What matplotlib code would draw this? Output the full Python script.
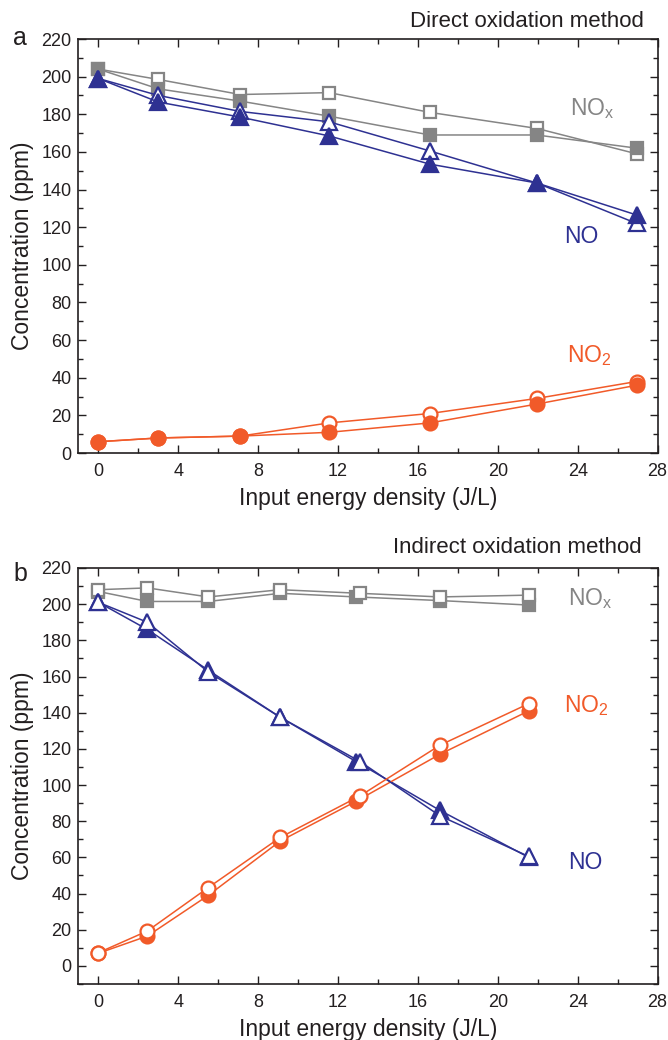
'''NO, NO2 and NOx concentration versus input energy density for two oxidation methods.'''

import matplotlib
matplotlib.use('Agg')
import matplotlib.pyplot as plt
from matplotlib.ticker import MultipleLocator

plt.rcParams['font.family'] = ['Liberation Sans', 'DejaVu Sans']
plt.rcParams['mathtext.fontset'] = 'custom'
plt.rcParams['mathtext.rm'] = 'Liberation Sans'
plt.rcParams['mathtext.it'] = 'Liberation Sans'

GRAY = '#858585'
BLUE = '#2e3192'
ORANGE = '#f15a29'
INK = '#231f20'

# panel a: direct oxidation
a_x = [0, 3.0, 7.1, 11.55, 16.6, 21.95, 26.95]
a_nox_open = [204, 198.5, 190.5, 191.5, 181, 172.5, 159]
a_nox_fill = [204, 193.5, 187, 179, 169, 169, 162]
a_no_open = [199, 190, 181.5, 176, 160.5, 143.5, 122]
a_no_fill = [199, 186.5, 178.5, 168.5, 153.5, 143.5, 126.5]
a_no2_open = [6, 8, 9, 16, 21, 29, 38]
a_no2_fill = [6, 8, 9, 11, 16, 26, 36]

# panel b: indirect oxidation
b_x_open = [0, 2.45, 5.5, 9.1, 13.1, 17.1, 21.55]
b_x_fill = [0, 2.45, 5.5, 9.1, 12.9, 17.1, 21.55]
b_nox_open = [208, 209, 204, 208, 206, 204, 205]
b_nox_fill = [207, 201.5, 201.5, 206, 204, 202, 199.5]
b_no_open = [201, 190, 162.5, 137.5, 113, 83, 60.5]
b_no_fill = [201, 186, 163.5, 137.5, 113, 86, 60]
b_no2_open = [7.3, 19.3, 43.3, 71, 94, 122, 145]
b_no2_fill = [7, 16.5, 39, 69, 91, 117, 141]

x_ticks = [0, 4, 8, 12, 16, 20, 24, 28]
y_ticks = [0, 20, 40, 60, 80, 100, 120, 140, 160, 180, 200, 220]

MS = {'s': 8.5, '^': 11, 'o': 10}


def series(ax, x, y, color, marker, filled, z):
    face = color if filled else 'white'
    ax.plot(x, y, color=color, lw=1.1, marker=marker, ms=MS[marker],
            mfc=face, mec=color, mew=1.6, zorder=z)


def style_axes(ax, ylim):
    ax.set_xlim(-1, 28)
    ax.set_ylim(*ylim)
    ax.set_xticks(x_ticks)
    ax.set_yticks(y_ticks)
    ax.xaxis.set_minor_locator(MultipleLocator(2))
    ax.yaxis.set_minor_locator(MultipleLocator(10))
    ax.tick_params(which='both', direction='in', top=True, right=True,
                   color=INK, width=1.0, labelcolor=INK, labelsize=13)
    ax.tick_params(which='major', length=6)
    ax.tick_params(which='minor', length=3.5)
    ax.tick_params(axis='x', pad=7)
    ax.tick_params(axis='y', pad=5)
    for s in ax.spines.values():
        s.set_color(INK)
        s.set_linewidth(1.2)
    ax.set_xlabel('Input energy density (J/L)', fontsize=16.5, color=INK, labelpad=5)
    ax.set_ylabel('Concentration (ppm)', fontsize=16.5, color=INK, labelpad=5)


def main():
    fig = plt.figure(figsize=(6.68, 10.4), dpi=100)
    ax_a = fig.add_axes([0.1175, 0.5644, 0.8668, 0.3981])
    ax_b = fig.add_axes([0.1175, 0.05385, 0.8668, 0.4])

    # direct: filled markers sit on top
    series(ax_a, a_x, a_nox_open, GRAY, 's', False, 3)
    series(ax_a, a_x, a_nox_fill, GRAY, 's', True, 4)
    series(ax_a, a_x, a_no_open, BLUE, '^', False, 5)
    series(ax_a, a_x, a_no_fill, BLUE, '^', True, 6)
    series(ax_a, a_x, a_no2_open, ORANGE, 'o', False, 5)
    series(ax_a, a_x, a_no2_fill, ORANGE, 'o', True, 6)
    style_axes(ax_a, (0, 220))
    ax_a.text(23.6, 183, r'NO$_\mathrm{x}$', color=GRAY, fontsize=16.5, va='center')
    ax_a.text(23.3, 115, 'NO', color=BLUE, fontsize=16.5, va='center')
    ax_a.text(23.45, 52, r'NO$_\mathrm{2}$', color=ORANGE, fontsize=16.5, va='center')

    # indirect: open markers sit on top
    series(ax_b, b_x_fill, b_nox_fill, GRAY, 's', True, 3)
    series(ax_b, b_x_open, b_nox_open, GRAY, 's', False, 4)
    series(ax_b, b_x_fill, b_no_fill, BLUE, '^', True, 5)
    series(ax_b, b_x_open, b_no_open, BLUE, '^', False, 6)
    series(ax_b, b_x_fill, b_no2_fill, ORANGE, 'o', True, 5)
    series(ax_b, b_x_open, b_no2_open, ORANGE, 'o', False, 6)
    style_axes(ax_b, (-10, 220))
    ax_b.text(23.5, 203, r'NO$_\mathrm{x}$', color=GRAY, fontsize=16.5, va='center')
    ax_b.text(23.5, 57, 'NO', color=BLUE, fontsize=16.5, va='center')
    ax_b.text(23.3, 144, r'NO$_\mathrm{2}$', color=ORANGE, fontsize=16.5, va='center')

    fig.text(644 / 668, 1 - 26.7 / 1040, 'Direct oxidation method', ha='right',
             va='baseline', fontsize=16, color=INK)
    fig.text(642 / 668, 1 - 553 / 1040, 'Indirect oxidation method', ha='right',
             va='baseline', fontsize=16, color=INK)
    fig.text(13 / 668, 1 - 45 / 1040, 'a', fontsize=18, color=INK, va='baseline')
    fig.text(13 / 668, 1 - 580.7 / 1040, 'b', fontsize=18, color=INK, va='baseline')

    fig.savefig('out.png', dpi=100)


if __name__ == "__main__":
    main()
